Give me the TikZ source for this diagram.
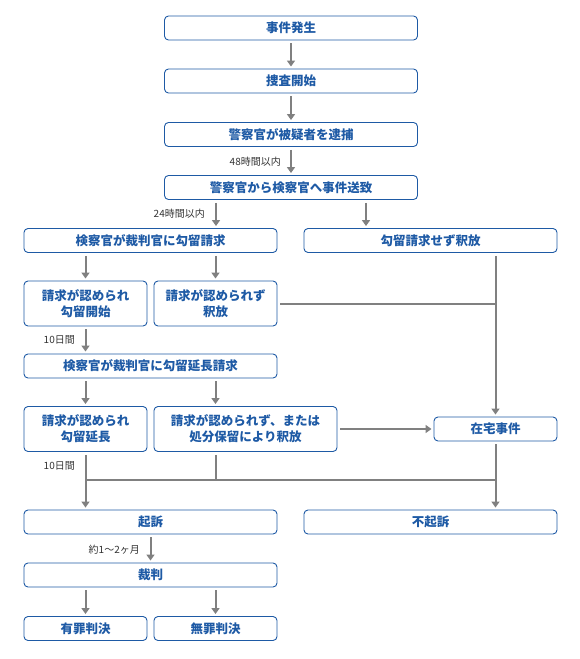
\documentclass[tikz,border=0pt]{standalone}
\usepackage{fontspec}
\setmainfont{Noto Sans CJK JP}
\usetikzlibrary{positioning, arrows.meta}
\definecolor{azul}{RGB}{30,90,165}
\definecolor{gris}{RGB}{128,128,128}
\definecolor{texto}{RGB}{51,51,51}

\begin{document}
\begin{tikzpicture}[x=1pt, y=-1pt,
    caja/.style = {draw=azul, line width=0.9pt, rounded corners=4pt, text=azul, inner sep=0pt, minimum height=24pt, font=\fontsize{12.5}{16}\selectfont\bfseries, align=center},
    ancha/.style = {caja, minimum width=253pt},
    corta/.style = {caja, minimum width=123pt},
    alta/.style = {minimum height=45pt},
    flecha/.style = {draw=gris, line width=2pt, -{Triangle[width=8pt, length=6pt]}, shorten <=3pt, shorten >=2pt},
    linea/.style = {draw=gris, line width=2pt},
    etiqueta/.style = {text=texto, font=\fontsize{10}{12}\selectfont, inner sep=0pt, anchor=east}]
      \useasboundingbox (0, 0) rectangle (580, 659);

      \node[ancha] (suceso) at (291, 28) {事件発生};
      \node[ancha] (investigacion) at (291, 81) {捜査開始};
      \node[ancha] (arresto) at (291, 134.5) {警察官が被疑者を逮捕};
      \node[ancha] (envio) at (291, 187.5) {警察官から検察官へ事件送致};
      \node[ancha] (solicitud) at (150.5, 240.5) {検察官が裁判官に勾留請求};
      \node[ancha] (liberado) at (430.5, 240.5) {勾留請求せず釈放};
      \node[corta, alta] (detencion) at (85.5, 303.5) {請求が認められ\\勾留開始};
      \node[corta, alta] (rechazo) at (215.5, 303.5) {請求が認められず\\釈放};
      \node[ancha] (prorroga) at (150.5, 366) {検察官が裁判官に勾留延長請求};
      \node[corta, alta] (extendida) at (85.5, 429) {請求が認められ\\勾留延長};
      \node[caja, alta, minimum width=183pt] (pendiente) at (245.5, 429) {請求が認められず、または\\処分保留により釈放};
      \node[corta] (zaitaku) at (495.5, 429) {在宅事件};
      \node[ancha] (acusacion) at (150.5, 522) {起訴};
      \node[ancha] (noacusacion) at (430.5, 522) {不起訴};
      \node[ancha] (juicio) at (150.5, 575) {裁判};
      \node[corta] (culpable) at (85.5, 628.5) {有罪判決};
      \node[corta] (inocente) at (215.5, 628.5) {無罪判決};
      \coordinate (union) at (0, 480);

      % plazos
      \node[etiqueta] (plazo48) at (281, 162) {48時間以内};
      \node[etiqueta] (plazo24) at (205, 214) {24時間以内};
      \node[etiqueta] (plazo10a) at (75, 340) {10日間};
      \node[etiqueta] (plazo10b) at (75, 466) {10日間};
      \node[etiqueta] (plazomes) at (140, 550) {約1～2ヶ月};

      \draw[flecha] (suceso) -- (investigacion);
      \draw[flecha] (investigacion) -- (arresto);
      \draw[flecha] (arresto) -- (envio);
      \draw[flecha] ([xshift=-75pt]envio.south) -- ([xshift=-75pt]envio.south |- solicitud.north);
      \draw[flecha] ([xshift=75pt]envio.south) -- ([xshift=75pt]envio.south |- liberado.north);
      \draw[flecha] (solicitud.south -| detencion.north) -- (detencion.north);
      \draw[flecha] (solicitud.south -| rechazo.north) -- (rechazo.north);
      \draw[linea, shorten <=3pt] (rechazo.east) -- (rechazo.east -| zaitaku.north);
      \draw[flecha] (liberado.south -| zaitaku.north) -- (zaitaku.north);
      \draw[flecha] (detencion) -- (prorroga.north -| detencion);
      \draw[flecha] (prorroga.south -| extendida.north) -- (extendida.north);
      \draw[flecha] (prorroga.south -| rechazo.north) -- (pendiente.north -| rechazo.north);
      \draw[flecha] (pendiente.east) -- (zaitaku.west);
      \draw[linea, shorten <=3pt] (pendiente.south -| rechazo.south) -- (rechazo.south |- union);
      \draw[linea] (extendida.south |- union) -- (zaitaku.south |- union);
      \draw[flecha] (extendida.south) -- (extendida.south |- acusacion.north);
      \draw[flecha] (zaitaku.south) -- (zaitaku.south |- noacusacion.north);
      \draw[flecha] (acusacion) -- (juicio);
      \draw[flecha] (juicio.south -| culpable.north) -- (culpable.north);
      \draw[flecha] (juicio.south -| inocente.north) -- (inocente.north);
    \end{tikzpicture}
\end{document}
